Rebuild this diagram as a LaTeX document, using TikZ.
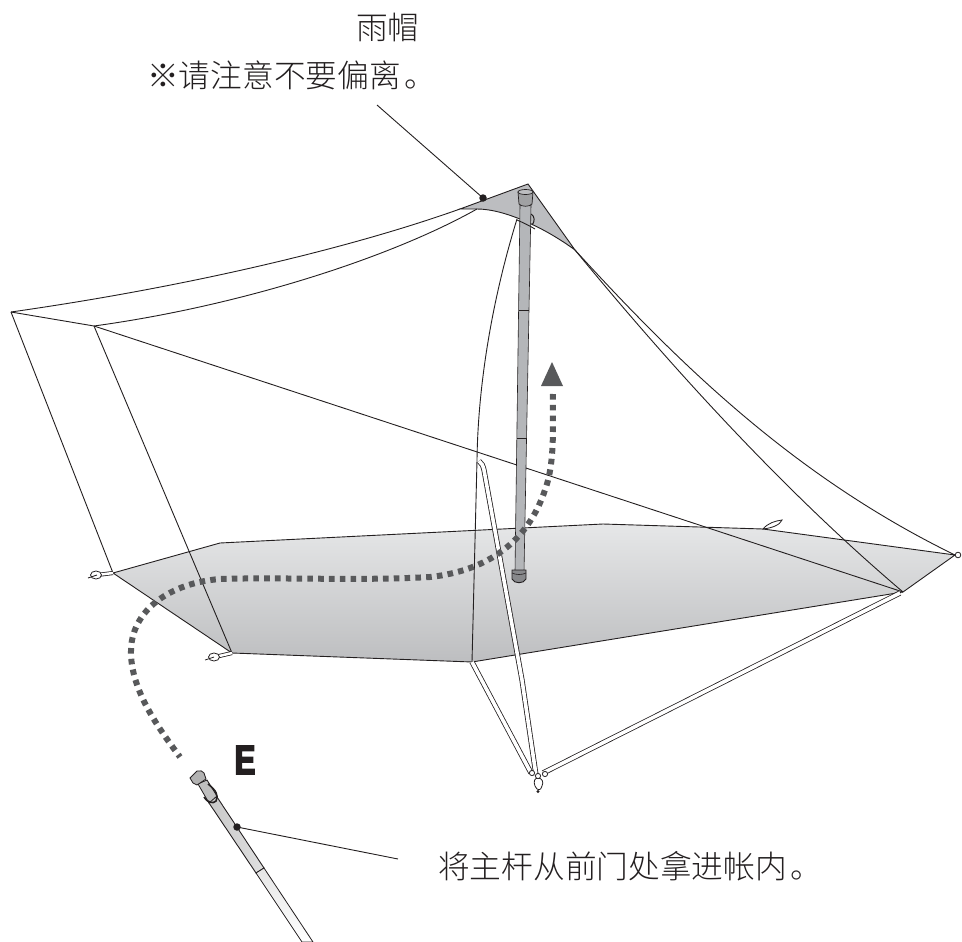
\documentclass[tikz,border=0pt]{standalone}
\usepackage{fontspec}
\setmainfont{Noto Sans CJK SC Light}
\newfontfamily\latinbold[FakeStretch=0.76,FakeBold=4]{Liberation Sans Bold}
\usetikzlibrary{calc}
\definecolor{ink}{HTML}{231F20}
\definecolor{dotc}{HTML}{58595B}
\definecolor{capc}{HTML}{BCBDC0}
\definecolor{polec}{HTML}{B4B6B9}
\definecolor{floortop}{HTML}{E6E7E8}
\definecolor{floorbot}{HTML}{BDBEC0}
\tikzset{
  wire/.style={draw=ink,line width=0.9pt},
  cord/.style={draw=ink,line width=0.8pt,double=white,double distance=3.6pt},
  route/.style={draw=dotc,line width=6pt,dash pattern=on 5.6pt off 5.2pt},
  pin/.style={circle,fill=ink,inner sep=0pt,minimum size=7.5pt},
  label/.style={font=\fontsize{31.7}{36}\selectfont,text=ink,inner sep=0pt,anchor=west},
  peg/.style={draw=ink,line width=0.8pt,fill=white}
}
\begin{document}
\begin{tikzpicture}[x=1pt,y=-1pt]
\useasboundingbox (0,0) rectangle (962,942);
% vertices
\coordinate (apex) at (528,184);
\coordinate (capL) at (460,209);
\coordinate (capR) at (575,250);
\coordinate (outerL) at (11,312);
\coordinate (innerL) at (94,326);
\coordinate (fl) at (113,573);
\coordinate (flb) at (220,543);
\coordinate (fbm) at (603,524);
\coordinate (fbp) at (763,529);
\coordinate (fr) at (955,555);
\coordinate (frf) at (903,592);
\coordinate (ffm) at (472,662);
\coordinate (ffl) at (232,653);
\coordinate (prop) at (477,460);
\coordinate (stake) at (536,775);
% floor
\path[wire,top color=floortop,bottom color=floorbot]
  (fl) -- (flb) -- (fbm) -- (fbp) -- (fr) -- (frf) -- (ffm) -- (ffl) -- cycle;
% cap
\path[wire,fill=capc] (capL) -- (apex) -- (capR)
  .. controls (545,228) and (505,209) .. (477,209) -- cycle;
% canopy edges
\path[wire] (outerL) .. controls (180,288) and (345,250) .. (capL);
\path[wire] (innerL) .. controls (240,306) and (390,258) .. (477,209);
\path[wire] (outerL) -- (fl);
\path[wire] (outerL) -- (innerL) -- (frf);
\path[wire] (innerL) -- (ffl);
\path[wire] (capR) .. controls (680,365) and (795,477) .. (fr);
\path[wire] (capR) .. controls (672,368) and (785,492) .. (frf);
\path[wire] (517,219) .. controls (492,300) and (478,385) .. (prop) -- (ffm);
% cords
\path[cord] (479,461) .. controls (482,463) and (483,466) .. (484,470) -- (522,680) -- (stake);
\path[cord] (ffm) -- (531,773);
\path[cord] (900,593) -- (543,773);
% stake
\path[peg] (535,786) .. controls (533,781) and (535,778) .. (538,778)
  .. controls (542,778) and (544,782) .. (542,786) .. controls (541,791) and (537,791) .. (535,786) -- cycle;
\fill[ink] (538,791.5) circle (1.6pt);
\path[peg] (532,773) circle (2.6pt);
\path[peg] (545,774) circle (2.6pt);
\path[peg] (538,776) circle (2.6pt);
% pegs
\path[cord,double distance=2.5pt] (fl) -- (97,575);
\path[peg] (96,575) ellipse (5.5pt and 4pt);
\draw[ink,line width=0.8pt] (88,578) -- (97,575);
\path[cord,double distance=2.5pt] (ffl) -- (215,657);
\path[peg] (214,657) ellipse (5.5pt and 4pt);
\draw[ink,line width=0.8pt] (205,660) -- (214,657);
\path[peg] (763,529) .. controls (768,523) and (775,521) .. (782,520)
  .. controls (780,525) and (772,528) .. (763,529) -- cycle;
\path[peg] (958,555) circle (2.8pt);
% main pole
\path[draw=ink,line width=0.6pt,fill=polec] (520,205) -- (531,205) -- (524,572) -- (515,572) -- cycle;
\path[draw=ink,line width=0.6pt] (519,310) -- (529,310) (517,438) -- (527,438);
\path[draw=ink,line width=0.7pt,fill=capc!85!black] (518,192) -- (533,192) -- (532,204)
  .. controls (530,207) and (521,207) .. (519,204) -- cycle;
\path[draw=ink,line width=0.7pt,fill=capc] (525.5,192) ellipse (7.5pt and 2.5pt);
\path[draw=ink,line width=0.9pt,fill=polec!75!black] (512,570) -- (526,570) -- (526,579)
  .. controls (524,584) and (514,584) .. (512,579) -- cycle;
\path[draw=ink,line width=0.6pt] (512,573) .. controls (516,575) and (522,575) .. (526,573);
\path[draw=ink,line width=1pt] (531,214) .. controls (535,216) and (535,222) .. (532,225);
% redraw lower cap edge over pole
\path[wire] (517,220) .. controls (524,223) and (530,226) .. (535,229);
% route
\path[route] (553,394) .. controls (552,420) and (556,460) .. (545,490)
  .. controls (530,535) and (495,570) .. (430,577)
  .. controls (360,581) and (280,577) .. (220,579)
  .. controls (170,583) and (132,610) .. (131,650)
  .. controls (130,690) and (160,730) .. (180,757);
\fill[dotc] (552,362) -- (563,386) -- (541,386) -- cycle;
% lower pole
\path[wire,left color=black!22,right color=black!12] (207,800) -- (217,797) -- (264,868) -- (256,873) -- cycle;
\path[draw=ink,line width=0.8pt,top color=black!10,bottom color=white] (256,873) -- (264,868) -- (313,942) -- (302,942) -- cycle;
\path[draw=ink,line width=0.8pt,fill=black!25] (198,784) -- (207,780) -- (217,796) -- (209,803) -- cycle;
\path[draw=ink,line width=1.6pt] (208,784) .. controls (216,790) and (219,796) .. (216,801) .. controls (213,804) and (208,803) .. (204,797);
\path[draw=ink,line width=0.8pt,fill=black!30] (190,778) -- (197,771) .. controls (200,770) and (203,771) .. (204,773)
  -- (206,779) -- (197,785) -- (193,783) -- cycle;
% labels
\node[label] (hood) at (356,27) {雨帽};
\node[label] (warn) at (147,75) {※请注意不要偏离\hspace{4pt}。};
\node[label] (carry) at (438,866) {将主杆从前门处拿进帐内\hspace{4pt}。};
\node[font=\latinbold\fontsize{41}{41}\selectfont,text=ink,inner sep=0pt,anchor=center] (letterE) at (245,760) {E};
% leaders
\node[pin] (pinA) at (483,198) {};
\node[pin] (pinB) at (237,827) {};
\coordinate (leadA) at (377,105);
\coordinate (leadB) at (398,859);
\draw[wire] (leadA) -- (pinA.center);
\draw[wire] (pinB.center) -- (leadB);
\end{tikzpicture}
\end{document}
